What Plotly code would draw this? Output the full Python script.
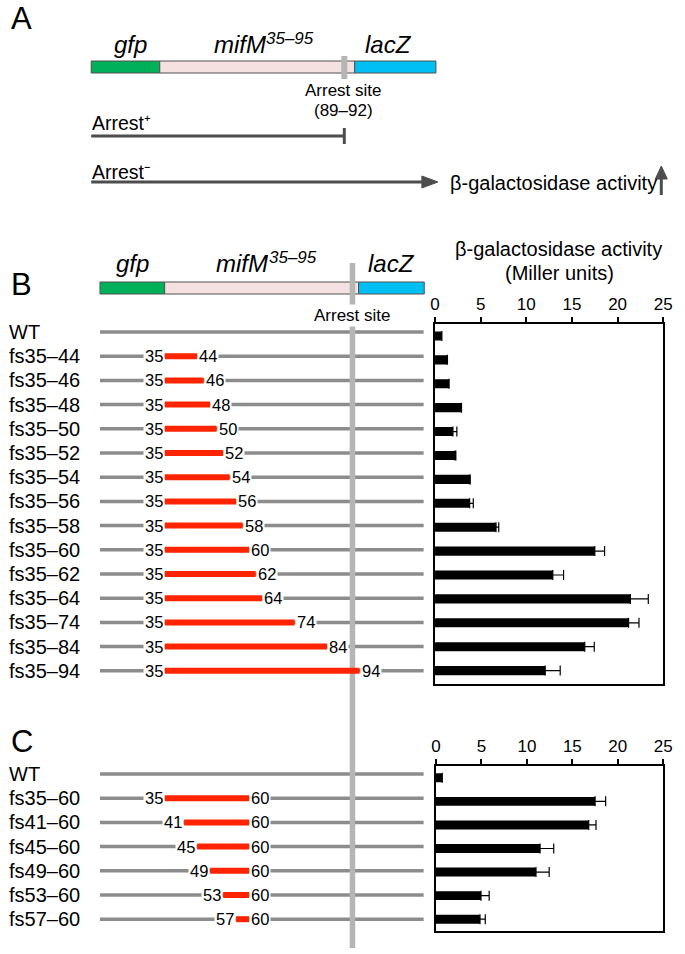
import plotly.graph_objects as go

W, H = 685, 954

# ---------------- data ----------------
B_LABELS = ["WT", "fs35–44", "fs35–46", "fs35–48", "fs35–50", "fs35–52", "fs35–54",
            "fs35–56", "fs35–58", "fs35–60", "fs35–62", "fs35–64", "fs35–74",
            "fs35–84", "fs35–94"]
B_START = [None, 35, 35, 35, 35, 35, 35, 35, 35, 35, 35, 35, 35, 35, 35]
B_END = [None, 44, 46, 48, 50, 52, 54, 56, 58, 60, 62, 64, 74, 84, 94]
B_ACTIVITY = [0.75, 1.36, 1.54, 2.9, 1.96, 2.18, 3.79, 3.79, 6.68, 17.5, 12.9,
              21.4, 21.2, 16.4, 12.07]
B_ERROR = [0, 0, 0, 0, 0.43, 0.1, 0.07, 0.4, 0.3, 1.07, 1.18, 1.96, 1.14, 1.04, 1.64]

C_LABELS = ["WT", "fs35–60", "fs41–60", "fs45–60", "fs49–60", "fs53–60", "fs57–60"]
C_START = [None, 35, 41, 45, 49, 53, 57]
C_END = [None, 60, 60, 60, 60, 60, 60]
C_ACTIVITY = [0.69, 17.5, 16.8, 11.45, 11.0, 4.95, 4.84]
C_ERROR = [0, 1.16, 0.8, 1.5, 1.45, 0.9, 0.58]

ACTIVITY_TICKS = [0, 5, 10, 15, 20, 25]
ARREST_SITE_TEXT = "(89–92)"

# ---------------- layout helpers ----------------
FONT = "Liberation Sans, Arial, Helvetica, sans-serif"
GREEN, PINK, BLUE = "#00b159", "#f5e1df", "#00bff2"
RED, GRAY, LIGHTGRAY, DARK = "#ff2400", "#8c8c8c", "#b5b5b5", "#4d4d4d"

def px(p):
    return p / W

def py(p):
    return 1 - p / H

SCALE = 3.317                     # px per residue
XB0, XA0 = 50.2, 45.2             # px offset of residue 0 (panels B/C, panel A)
XB_RANGE = [-XB0 / SCALE, (W - XB0) / SCALE]
XA_RANGE = [-XA0 / SCALE, (W - XA0) / SCALE]
ROW0, ROWH = 332, 24.2            # px of first row, px per row
Y_RANGE = [(H - ROW0) / ROWH, -ROW0 / ROWH]
C_OFFSET = (774 - ROW0) / ROWH    # panel C rows start lower

def row_of(p):
    return (p - ROW0) / ROWH

LINE_EXT = (14.1, 113.7)          # residue extent of schematic lines (B/C)
ARREST_B = 91.8
ARREST_A = 90.8

fig = go.Figure()

# ---------------- schematic rows (B and C) ----------------
rows_all = [(i, s, e) for i, (s, e) in enumerate(zip(B_START, B_END))] + \
           [(C_OFFSET + j, s, e) for j, (s, e) in enumerate(zip(C_START, C_END))]

gx, gy = [], []
for r, s, e in rows_all:
    gx += [LINE_EXT[0], LINE_EXT[1], None]
    gy += [r, r, None]
fig.add_trace(go.Scatter(x=gx, y=gy, mode="lines", line=dict(color=GRAY, width=3.5),
                         hoverinfo="skip", xaxis="x", yaxis="y"))

# vertical arrest-site line
fig.add_trace(go.Scatter(x=[ARREST_B, ARREST_B], y=[row_of(263), row_of(948)], mode="lines",
                         line=dict(color=LIGHTGRAY, width=5.5), hoverinfo="skip",
                         xaxis="x", yaxis="y"))

rx, ry = [], []
for r, s, e in rows_all:
    if s is None:
        continue
    rx += [s - 1, e, None]
    ry += [r, r, None]
fig.add_trace(go.Scatter(x=rx, y=ry, mode="lines", line=dict(color=RED, width=6),
                         hoverinfo="skip", xaxis="x", yaxis="y"))

annotations = []
for r, s, e in rows_all:
    if s is None:
        continue
    annotations.append(dict(x=s - 1, y=r, xref="x", yref="y", text=str(s), showarrow=False,
                            xanchor="right", yanchor="middle", bgcolor="white", borderpad=1,
                            font=dict(size=16.5)))
    annotations.append(dict(x=e, y=r, xref="x", yref="y", text=str(e), showarrow=False,
                            xanchor="left", yanchor="middle", bgcolor="white", borderpad=1,
                            font=dict(size=16.5)))

for i, lab in enumerate(B_LABELS):
    annotations.append(dict(x=px(2), y=i, xref="paper", yref="y", text=lab, showarrow=False,
                            xanchor="left", yanchor="middle", font=dict(size=20)))
for j, lab in enumerate(C_LABELS):
    annotations.append(dict(x=px(2), y=C_OFFSET + j, xref="paper", yref="y", text=lab,
                            showarrow=False, xanchor="left", yanchor="middle",
                            font=dict(size=20)))

# ---------------- bar charts ----------------
fig.add_trace(go.Bar(x=B_ACTIVITY, y=list(range(len(B_ACTIVITY))), orientation="h",
                     width=0.38, marker=dict(color="black", line=dict(width=0)),
                     error_x=dict(type="data", symmetric=False, array=B_ERROR,
                                  arrayminus=[0] * len(B_ERROR), color="black",
                                  thickness=1.2, width=5),
                     hoverinfo="skip", xaxis="x3", yaxis="y3"))
fig.add_trace(go.Bar(x=C_ACTIVITY, y=list(range(len(C_ACTIVITY))), orientation="h",
                     width=0.38, marker=dict(color="black", line=dict(width=0)),
                     error_x=dict(type="data", symmetric=False, array=C_ERROR,
                                  arrayminus=[0] * len(C_ERROR), color="black",
                                  thickness=1.2, width=5),
                     hoverinfo="skip", xaxis="x4", yaxis="y4"))

# ---------------- shapes ----------------
shapes = []

def box(xref, x0, x1, ytop, ybot, color):
    return dict(type="rect", xref=xref, yref="paper", x0=x0, x1=x1, y0=py(ybot), y1=py(ytop),
                fillcolor=color, line=dict(color="#505050", width=1), layer="below")

# panel A construct
shapes += [box("x2", 12.9, 34, 61, 73, GREEN), box("x2", 34, 94, 61, 73, PINK),
           box("x2", 94, 119.0, 61, 73, BLUE)]
shapes.append(dict(type="rect", xref="x2", yref="paper", xsizemode="pixel", xanchor=ARREST_A,
                   x0=-3, x1=3, y0=py(79), y1=py(56), fillcolor=LIGHTGRAY, line=dict(width=0)))
# Arrest+ line with stop bar
shapes.append(dict(type="line", xref="x2", yref="paper", x0=12.9, x1=ARREST_A,
                   y0=py(136), y1=py(136), line=dict(color=DARK, width=3)))
shapes.append(dict(type="line", xref="x2", yref="paper", x0=ARREST_A, x1=ARREST_A,
                   y0=py(144), y1=py(128), line=dict(color=DARK, width=3)))
# Arrest- line with arrow head
shapes.append(dict(type="line", xref="x2", yref="paper", x0=12.9, x1=115.5,
                   y0=py(182), y1=py(182), line=dict(color=DARK, width=3)))
shapes.append(dict(type="path", xref="x2", yref="paper", xsizemode="pixel", ysizemode="pixel",
                   xanchor=119.6, yanchor=py(182), path="M0,0 L-16,6 L-16,-6 Z",
                   fillcolor=DARK, line=dict(color=DARK, width=1)))
# up arrow
shapes.append(dict(type="line", xref="paper", yref="paper", x0=px(670), x1=px(670),
                   y0=py(195), y1=py(176), line=dict(color=DARK, width=3)))
shapes.append(dict(type="path", xref="paper", yref="paper", xsizemode="pixel", ysizemode="pixel",
                   xanchor=px(670), yanchor=py(166), path="M0,0 L-6,-13 L6,-13 Z",
                   fillcolor=DARK, line=dict(color=DARK, width=1)))

# panel B construct
shapes += [box("x", LINE_EXT[0], 34, 282, 294, GREEN), box("x", 34, 93.7, 282, 294, PINK),
           box("x", 93.7, 113.9, 282, 294, BLUE)]

# ---------------- text ----------------
def txt(x, y, text, size, xanchor="center", italic=False, **kw):
    f = dict(size=size)
    if italic:
        f["style"] = "italic"
    d = dict(x=px(x), y=py(y), xref="paper", yref="paper", text=text, showarrow=False,
             xanchor=xanchor, yanchor="middle", font=f)
    d.update(kw)
    return d

annotations += [
    txt(4, 19, "A", 31, "left"),
    txt(128, 44, "gfp", 24, italic=True),
    txt(268, 44, "mifM", 24, "right", italic=True),
    txt(264, 38, "35–95", 17, "left", italic=True),
    txt(392, 44, "lacZ", 24, italic=True),
    txt(346, 91, "Arrest site", 17),
    txt(346, 110, ARREST_SITE_TEXT, 17),
    txt(87, 123, "Arrest⁺", 19.5, "left"),
    txt(87, 172, "Arrest⁻", 19.5, "left"),
    txt(452, 183, "β-galactosidase activity", 20, "left"),
    txt(4, 284, "B", 31, "left"),
    txt(130, 264, "gfp", 24, italic=True),
    txt(271, 264, "mifM", 24, "right", italic=True),
    txt(267, 258, "35–95", 17, "left", italic=True),
    txt(395, 264, "lacZ", 24, italic=True),
    txt(565, 249, "β-galactosidase activity", 20),
    txt(566, 273, "(Miller units)", 20),
    txt(4, 741, "C", 31, "left"),
]
annotations.append(dict(x=ARREST_B, y=py(315), xref="x", yref="paper", text="Arrest site",
                        showarrow=False, xanchor="center", yanchor="middle", bgcolor="white",
                        borderpad=1, font=dict(size=17)))

# ---------------- axes ----------------
hidden = dict(visible=False, showgrid=False, zeroline=False, fixedrange=True)
bar_x = dict(range=[0, 25], side="top", tickvals=ACTIVITY_TICKS, ticks="outside", ticklen=5,
             tickwidth=1.5, tickcolor="black", showline=True, mirror=True, linecolor="black",
             linewidth=1.5, showgrid=False, zeroline=False, tickfont=dict(size=17))
bar_y = dict(showline=True, mirror=True, linecolor="black", linewidth=1.5, showgrid=False,
             zeroline=False, showticklabels=False, ticks="")

fig.update_layout(
    width=W, height=H, margin=dict(l=0, r=0, t=0, b=0),
    paper_bgcolor="white", plot_bgcolor="rgba(0,0,0,0)",
    font=dict(family=FONT, color="black"),
    showlegend=False, barmode="overlay",
    xaxis=dict(hidden, domain=[0, 1], range=XB_RANGE, anchor="y"),
    yaxis=dict(hidden, domain=[0, 1], range=Y_RANGE, anchor="x"),
    xaxis2=dict(hidden, domain=[0, 1], range=XA_RANGE, overlaying="x", anchor="y"),
    xaxis3=dict(bar_x, domain=[px(439), px(672)], anchor="y3"),
    yaxis3=dict(bar_y, domain=[py(684), py(324)], range=[14.56, -0.5], anchor="x3"),
    xaxis4=dict(bar_x, domain=[px(440), px(672)], anchor="y4"),
    yaxis4=dict(bar_y, domain=[py(931), py(766)], range=[6.5, -0.5], anchor="x4"),
    shapes=shapes, annotations=annotations,
)

fig.write_html("out.html", config={"displayModeBar": False},
               post_script="document.body.style.margin='0';"
                           "document.body.style.overflow='hidden';")
